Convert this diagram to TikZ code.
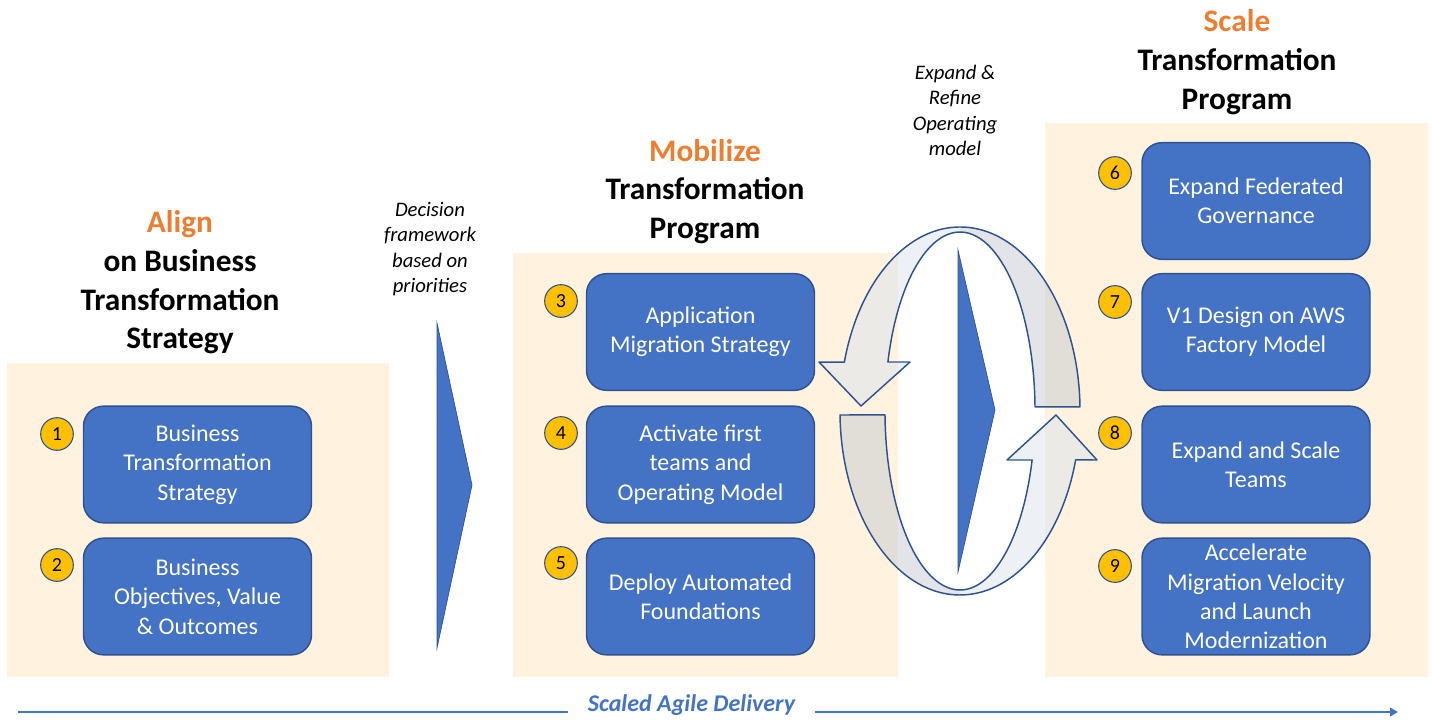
\documentclass[tikz,border=0pt]{standalone}
\usepackage{fontspec}
\setmainfont{Carlito}
\usetikzlibrary{arrows.meta}
\definecolor{awsblue}{RGB}{68,114,196}
\definecolor{awsedge}{RGB}{47,82,143}
\definecolor{awsorange}{RGB}{237,125,49}
\definecolor{panelfill}{RGB}{255,243,223}
\definecolor{badgefill}{RGB}{255,192,0}
\definecolor{ringfront}{RGB}{219,227,238}
\definecolor{ringback}{RGB}{197,202,208}
\begin{document}
\begin{tikzpicture}[x=0.75pt,y=0.75pt,yscale=-1,
	panel/.style={fill=panelfill, draw=none},
	stepbox/.style={rectangle, rounded corners=15pt, fill=awsblue, draw=awsedge, line width=1.1pt, minimum width=171pt, minimum height=87.5pt, inner sep=0pt, align=center, text=white, font=\fontsize{18}{22}\selectfont},
	badge/.style={circle, fill=badgefill, draw=awsedge, line width=0.8pt, minimum size=24.5pt, inner sep=0pt, font=\fontsize{15}{18}\selectfont},
	heading/.style={align=center, font=\bfseries\fontsize{23.5}{29}\selectfont},
	note/.style={align=center, font=\itshape\fontsize{15.5}{19}\selectfont},
	chevron/.style={fill=awsblue, draw=awsedge, line width=0.5pt},
	ringline/.style={draw=awsedge, line width=1.1pt, line join=round},
	agileline/.style={draw=awsblue, line width=2.2pt},
	]
	\useasboundingbox (0,0) rectangle (1432,719);
	
	%Shape: Rectangle [panels]
	\draw [panel] (7,363) rectangle (389,677);
	\draw [panel] (513,253) rectangle (898,677);
	\draw [panel] (1045,123) rectangle (1428,677);
	
	% Text Node
	\node [heading] (alignhead) at (180,282.5) {\textcolor{awsorange}{Align}\\on Business\\Transformation\\Strategy};
	% Text Node
	\node [heading] (mobilizehead) at (705,191.5) {\textcolor{awsorange}{Mobilize}\\Transformation\\Program};
	% Text Node
	\node [heading] (scalehead) at (1237,62) {\textcolor{awsorange}{Scale}\\Transformation\\Program};
	
	% Text Node
	\node [note] (decisionnote) at (430,249) {Decision\\framework\\based on\\priorities};
	% Text Node
	\node [note] (expandnote) at (955,110.5) {Expand \&\\Refine\\Operating\\model};
	
	%Rounded Rect [steps, align]
	\node [stepbox] (step1) at (197.5,464.5) {Business\\Transformation\\Strategy};
	\node [stepbox] (step2) at (197.5,596.5) {Business\\Objectives, Value\\\& Outcomes};
	%Rounded Rect [steps, mobilize]
	\node [stepbox] (step3) at (700.5,332) {Application\\Migration Strategy};
	\node [stepbox] (step4) at (700.5,464.5) {Activate first\\teams and\\Operating Model};
	\node [stepbox] (step5) at (700.5,596.5) {Deploy Automated\\Foundations};
	%Rounded Rect [steps, scale]
	\node [stepbox] (step6) at (1256,201) {Expand Federated\\Governance};
	\node [stepbox] (step7) at (1256,332) {V1 Design on AWS\\Factory Model};
	\node [stepbox] (step8) at (1256,464.5) {Expand and Scale\\Teams};
	\node [stepbox] (step9) at (1256,596.5) {Accelerate\\Migration Velocity\\and Launch\\Modernization};
	
	%Shape: Circle [badges]
	\node [badge] (num1) at (57,434) {1};
	\node [badge] (num2) at (57,565) {2};
	\node [badge] (num3) at (561,301) {3};
	\node [badge] (num4) at (561,433) {4};
	\node [badge] (num5) at (561,563) {5};
	\node [badge] (num6) at (1115,173) {6};
	\node [badge] (num7) at (1115,302) {7};
	\node [badge] (num8) at (1115,433) {8};
	\node [badge] (num9) at (1115,566) {9};
	
	%Shape: Chevron
	\draw [chevron] (437,323) -- (472,485) -- (437,648) -- cycle;
	
	%Shape: Circular Arrow [upper, back and front faces]
	\fill [ringback, fill opacity=0.5] (1080,406.8) arc[start angle=-1.3, end angle=-90, x radius=120, y radius=184] -- (960,232) arc[start angle=-90, end angle=-1.3, x radius=75, y radius=179] -- cycle;
	\fill [ringfront, fill opacity=0.5] (960,227) arc[start angle=-90, end angle=-164.6, x radius=120, y radius=184] -- (819,362) -- (861,406) -- (910,362) -- (887.9,362) arc[start angle=-164.1, end angle=-90, x radius=75, y radius=179] -- cycle;
	\draw [ringline] (1080,406.8) arc[start angle=-1.3, end angle=-164.6, x radius=120, y radius=184] -- (819,362) -- (861,406) -- (910,362) -- (887.9,362) arc[start angle=-164.1, end angle=-1.3, x radius=75, y radius=179] -- cycle;
	
	%Shape: Circular Arrow [lower, back and front faces]
	\fill [ringback, fill opacity=0.5] (840,415) arc[start angle=178.75, end angle=90, x radius=120, y radius=184] -- (960,590) arc[start angle=90, end angle=178.75, x radius=75, y radius=179] -- cycle;
	\fill [ringfront, fill opacity=0.5] (960,595) arc[start angle=90, end angle=15.4, x radius=120, y radius=184] -- (1097,460) -- (1056,415) -- (1007,460) -- (1032.1,460) arc[start angle=15.9, end angle=90, x radius=75, y radius=179] -- cycle;
	\draw [ringline] (840,415) arc[start angle=178.75, end angle=15.4, x radius=120, y radius=184] -- (1097,460) -- (1056,415) -- (1007,460) -- (1032.1,460) arc[start angle=15.9, end angle=178.75, x radius=75, y radius=179] -- cycle;
	
	%Shape: Chevron [inside the ring]
	\draw [chevron] (958,250) -- (995,410) -- (958,572) -- cycle;
	
	% Text Node
	\node [font=\bfseries\itshape\fontsize{18}{22}\selectfont, text=awsblue, inner xsep=15pt] (agile) at (691.5,705.5) {Scaled Agile Delivery};
	\coordinate (agilestart) at (18,712);
	\coordinate (agileend) at (1398,712);
	%Straight Lines [delivery]
	\draw [agileline] (agilestart) -- (agilestart -| agile.west);
	\draw [agileline, -{Triangle[length=6pt,width=6.5pt]}] (agileend -| agile.east) -- (agileend);
\end{tikzpicture}
\end{document}
